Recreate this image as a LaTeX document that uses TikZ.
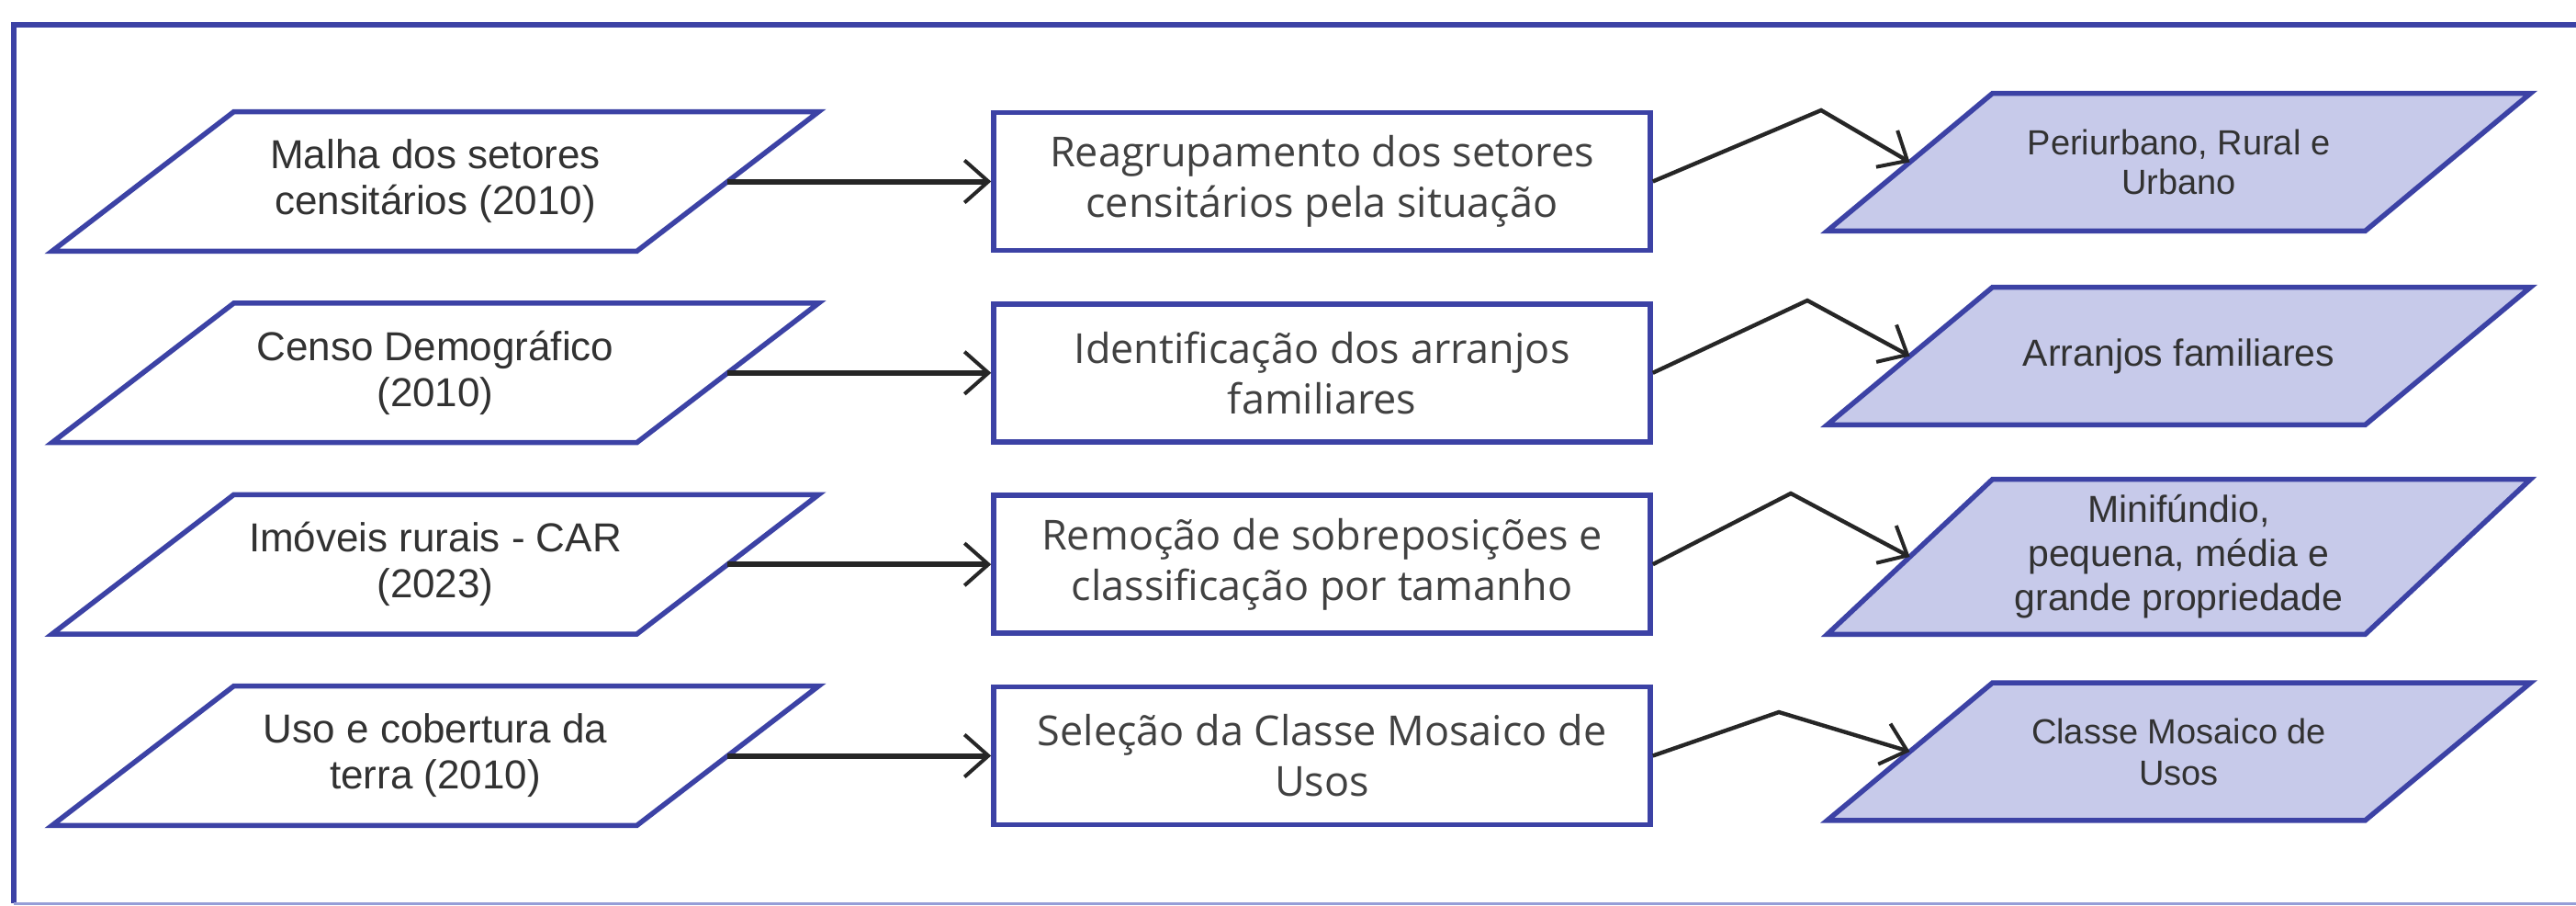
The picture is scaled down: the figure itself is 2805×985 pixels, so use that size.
\documentclass[tikz,border=0pt]{standalone}
\usepackage{fontspec}
\setmainfont{Liberation Sans}
\newfontfamily\procfont{Open Sans}
\usetikzlibrary{arrows.meta,calc}
\pgfdeclarelayer{background}
\pgfsetlayers{background,main}
\definecolor{edgeblue}{RGB}{60,66,165}
\definecolor{outfill}{RGB}{199,202,234}
\definecolor{txtgray}{RGB}{50,50,50}
\definecolor{proctxt}{RGB}{65,65,65}
\definecolor{framelight}{RGB}{150,158,215}
\begin{document}
\begin{tikzpicture}[x=0.5pt,y=-0.5pt,
  txtnode/.style={rectangle, inner sep=0pt, align=center, text=txtgray},
  inshape/.style={txtnode, minimum width=318pt, minimum height=75.5pt, font=\fontsize{22}{25}\selectfont},
  procbox/.style={txtnode, text=proctxt, draw=edgeblue, line width=2.75pt, fill=white, minimum width=357.5pt, minimum height=75pt, font=\procfont\fontsize{22.5}{27.5}\selectfont},
  outshape/.style={txtnode, minimum width=292.5pt, minimum height=74.5pt},
  pgline/.style={draw=edgeblue, line width=2.75pt, line join=miter},
  harrow/.style={draw=black!85, line width=3pt, -{Straight Barb[length=13pt,width=23pt,line width=2pt]}},
  zarrow/.style={draw=black!85, line width=2.2pt, -{Straight Barb[length=13pt,width=23pt,line width=2pt]}},
]
\useasboundingbox (0,0) rectangle (2805,985);

% inputs
\node[inshape] (in1) at (474,197.5) {Malha dos setores\\censitários (2010)};
\node[inshape] (in2) at (474,405.8) {Censo Demográfico\\(2010)};
\node[inshape] (in3) at (474,614.2) {Imóveis rurais - CAR\\(2023)};
\node[inshape] (in4) at (474,822.5) {Uso e cobertura da\\terra (2010)};

% process boxes
\node[procbox] (box1) at (1439.5,197.5) {Reagrupamento dos setores\\censitários pela situação};
\node[procbox] (box2) at (1439.5,405.8) {Identificação dos arranjos\\familiares};
\node[procbox] (box3) at (1439.5,614.2) {Remoção de sobreposições e\\classificação por tamanho};
\node[procbox] (box4) at (1439.5,822.5) {Seleção da Classe Mosaico de\\Usos};

% outputs
\node[outshape, font=\fontsize{19}{21.5}\selectfont] (out1) at (2372.5,176.5) {Periurbano, Rural e\\Urbano};
\node[outshape, font=\fontsize{20.5}{24}\selectfont] (out2) at (2372.5,387.5) {Arranjos familiares};
\node[outshape, minimum height=84pt, font=\fontsize{20.5}{24}\selectfont] (out3) at (2372.5,606) {Minifúndio,\\pequena, média e\\grande propriedade};
\node[outshape, font=\fontsize{19}{22.5}\selectfont] (out4) at (2372.5,818) {Classe Mosaico de\\Usos};

\begin{pgfonlayer}{background}
\fill[white] (0,0) rectangle (2805,985);
% frame
\draw[edgeblue, line width=3pt] (2805,27) -- (15,27) -- (15,983);
\draw[framelight, line width=1.5pt] (15,983) -- (2805,983);
\foreach \n in {in1,in2,in3,in4}
  \draw[pgline, fill=white] ([xshift=-49.5pt]\n.south west) -- ([xshift=-49.5pt]\n.south east) -- ([xshift=49.5pt]\n.north east) -- ([xshift=49.5pt]\n.north west) -- cycle;
\foreach \n in {out1,out2,out3,out4}
  \draw[pgline, fill=outfill] ([xshift=-45pt]\n.south west) -- ([xshift=-45pt]\n.south east) -- ([xshift=45pt]\n.north east) -- ([xshift=45pt]\n.north west) -- cycle;
\end{pgfonlayer}

% connectors
\coordinate (pk1) at (1983,120);
\coordinate (pk2) at (1968,327);
\coordinate (pk3) at (1950,537);
\coordinate (pk4) at (1937,775);
\foreach \i in {1,2,3,4} {
  \draw[harrow] (in\i.east) -- (box\i.west);
  \draw[zarrow] (box\i.east) -- (pk\i) -- (out\i.west);
}
\end{tikzpicture}
\end{document}
